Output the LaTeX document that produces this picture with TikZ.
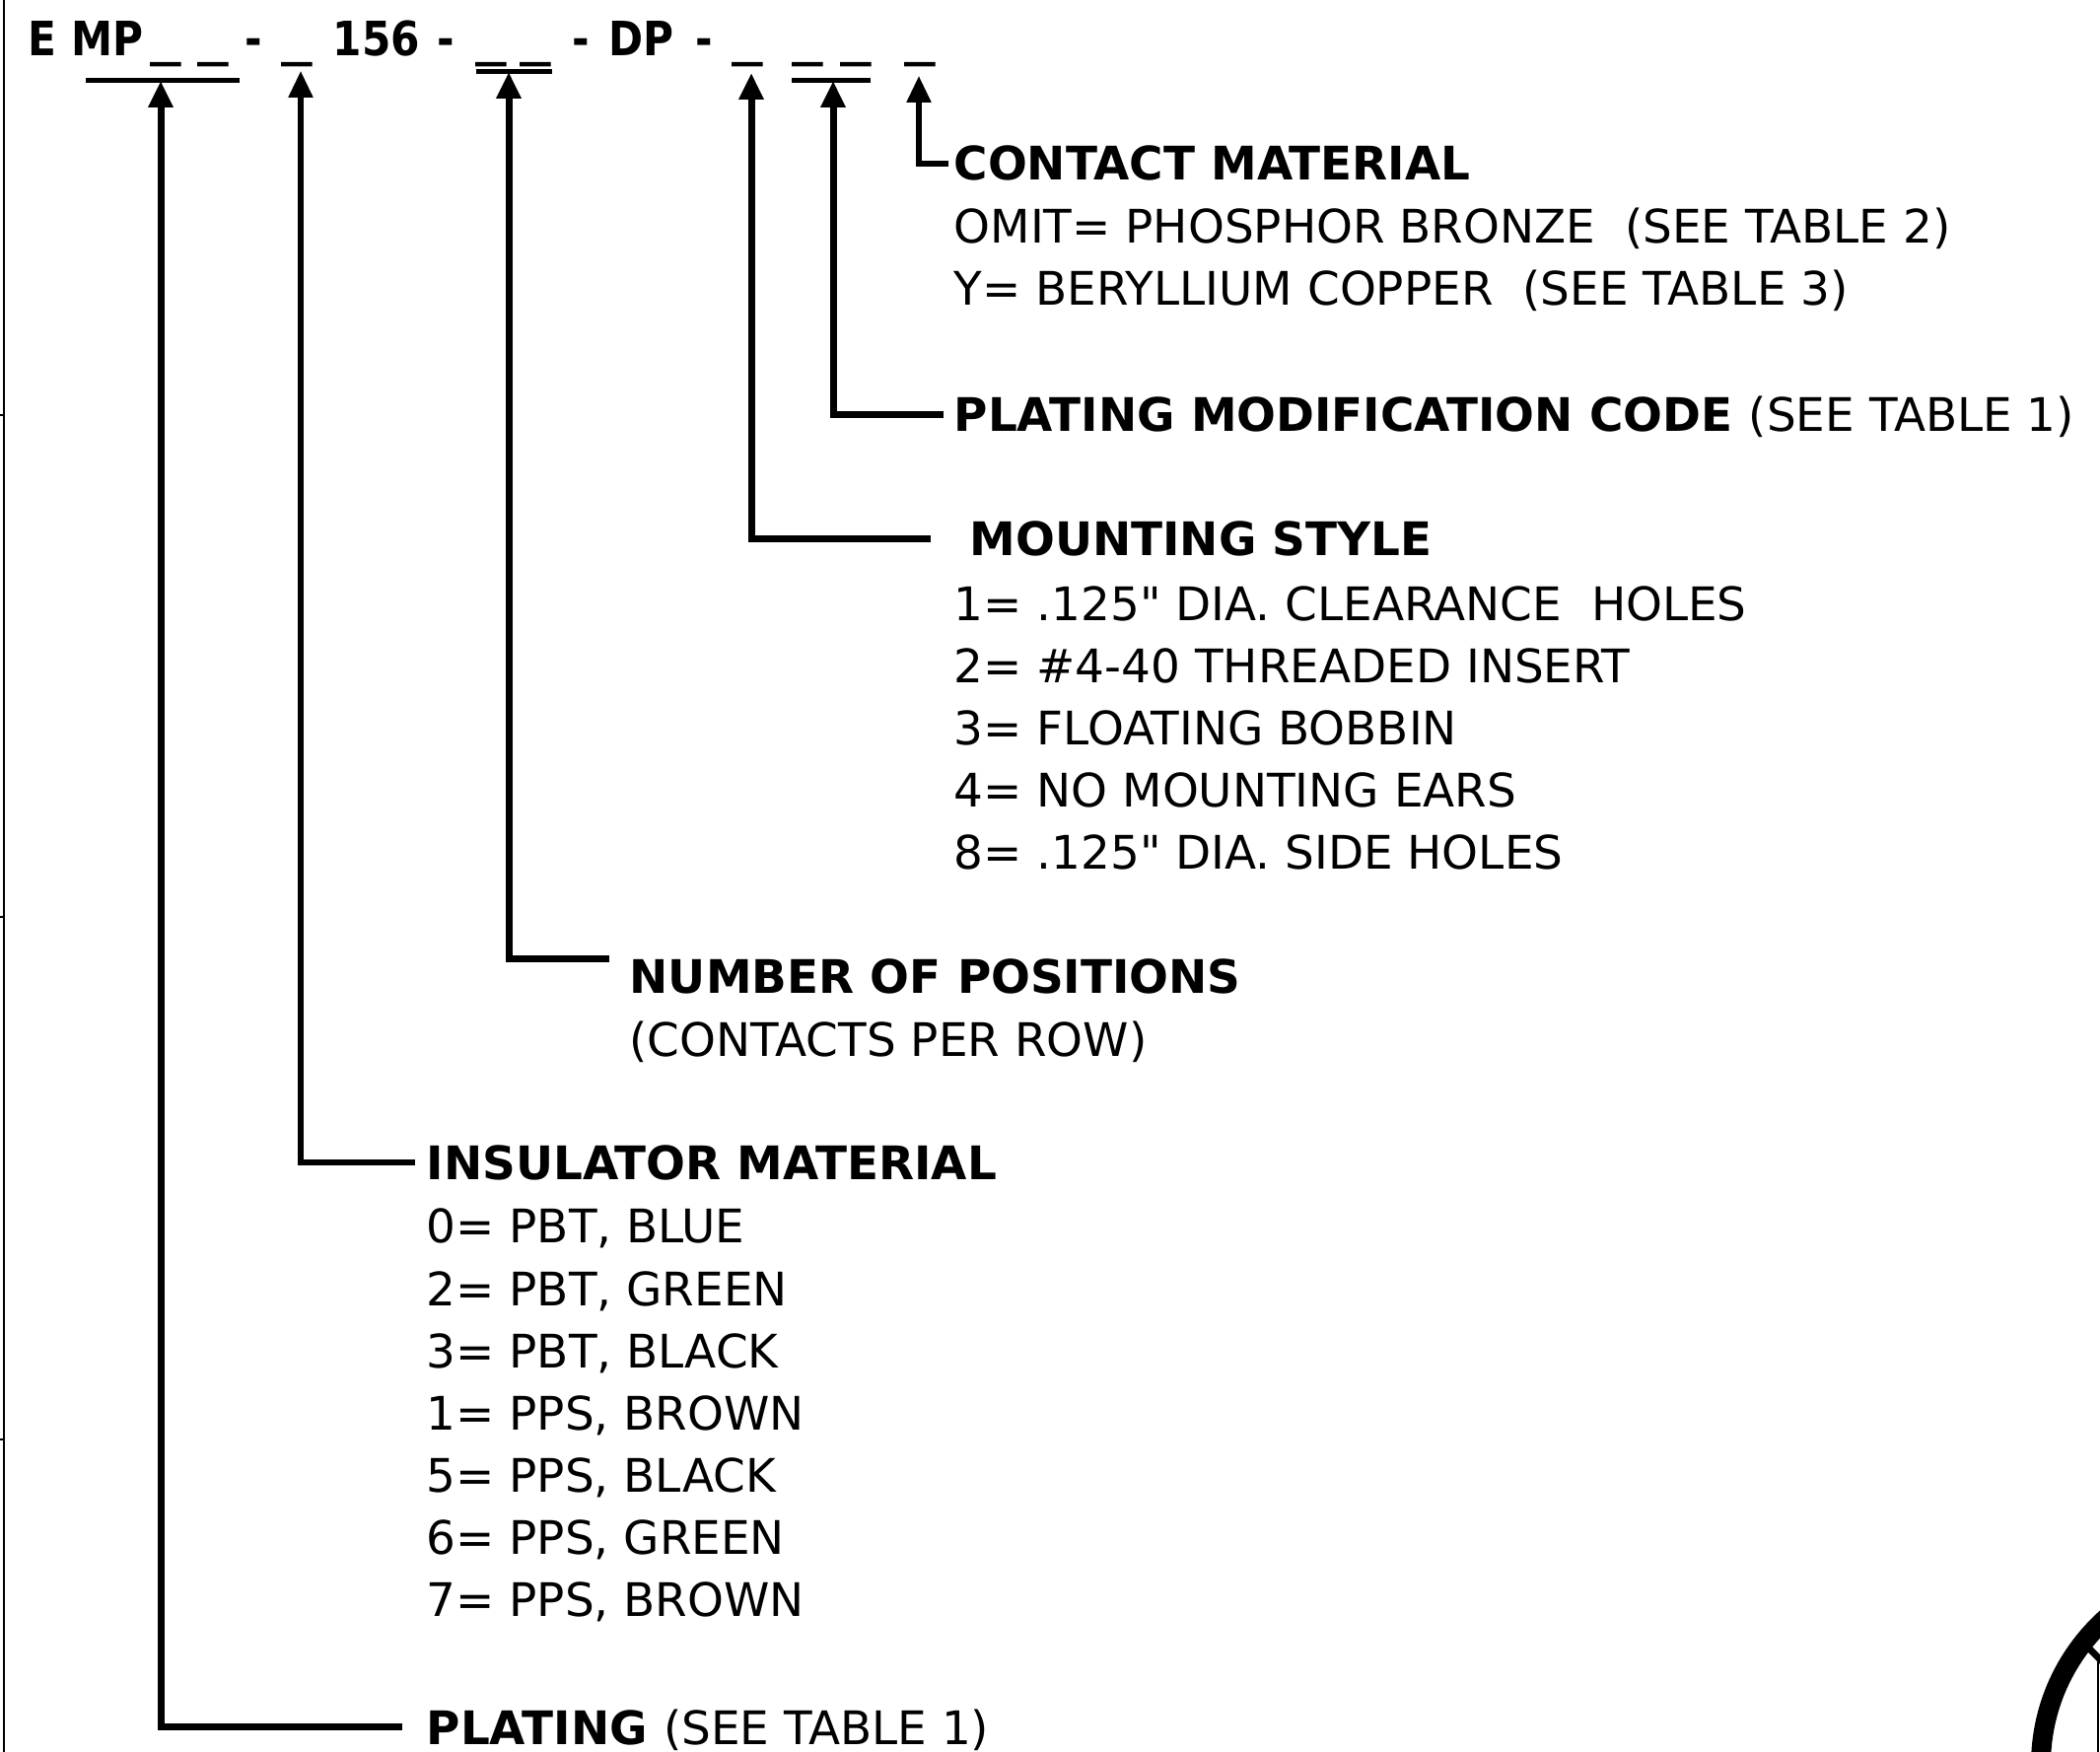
\documentclass[tikz,border=0pt]{standalone}
\usepackage{fontspec}
\setmainfont{DejaVu Sans}[Ligatures=TeXOff]
\newfontfamily\titlefont{DejaVu Sans}[FakeStretch=0.88]
\usetikzlibrary{arrows.meta}

\newcommand\us{\scalebox{1.5}[1]{\_}}

\begin{document}
\begin{tikzpicture}[x=0.1mm, y=-0.1mm,
  every node/.style={inner sep=0pt, anchor=base west, font=\fontsize{13.34pt}{16pt}\selectfont},
  part/.style={font=\titlefont\fontsize{13.66pt}{16pt}\selectfont\bfseries},
  head/.style={font=\fontsize{13.34pt}{16pt}\selectfont\bfseries, text height=9.7pt, text depth=0pt},
  lead/.style={line width=0.7mm, -{Triangle[length=2.7mm,width=2.4mm]}},
  thinlead/.style={lead, line width=0.55mm},
  bar/.style={line width=0.5mm}]
  \useasboundingbox (0,0) rectangle (2130,1777);

  % part number
  \foreach \x/\s [count=\i] in {28/E, 72/MP, 152/\us, 200/\us, 248/-, 285/\us, 337/156, 443/-,
      482/\us, 527/\us, 580/-, 617/DP, 705/-, 742/\us, 803/\us, 852/\us, 917/\us}
    \node[part] (t\i) at (\x,57) {\s};
  \draw[bar] (87,82) -- (243,82);
  \draw[bar] (483,73) -- (560,73);
  \draw[bar] (803,82) -- (883,82);
  \coordinate (tip1) at (163,82);
  \coordinate (tip2) at (305,72);
  \coordinate (tip3) at (516,73);
  \coordinate (tip4) at (762,74);
  \coordinate (tip5) at (845,82);
  \coordinate (tip6) at (932,77);

  % contact material
  \node[head] (cm) at (967,183) {CONTACT MATERIAL};
  \node (cm1) at (967,247) {OMIT= PHOSPHOR BRONZE~ (SEE TABLE 2)};
  \node (cm2) at (967,310) {Y= BERYLLIUM COPPER~ (SEE TABLE 3)};

  % plating modification
  \node[head] (pm) at (967,438) {PLATING MODIFICATION CODE \textnormal{(SEE TABLE 1)}};

  % mounting style
  \node[head] (ms) at (983,564) {MOUNTING STYLE};
  \foreach \s [count=\i] in {{1= .125" DIA. CLEARANCE~ HOLES}, {2= \#4-40 THREADED INSERT},
      {3= FLOATING BOBBIN}, {4= NO MOUNTING EARS}, {8= .125" DIA. SIDE HOLES}}
    \node (ms\i) at (967,{630+62.8*(\i-1)}) {\s};

  % positions
  \node[head] (np) at (638,1007) {NUMBER OF POSITIONS};
  \node (np1) at (638,1072) {(CONTACTS PER ROW)};

  % insulator
  \node[head] (im) at (432,1196) {INSULATOR MATERIAL};
  \foreach \s [count=\i] in {{0= PBT, BLUE}, {2= PBT, GREEN}, {3= PBT, BLACK}, {1= PPS, BROWN},
      {5= PPS, BLACK}, {6= PPS, GREEN}, {7= PPS, BROWN}}
    \node (im\i) at (432,{1261+63*(\i-1)}) {\s};

  % plating
  \node[head] (pl) at (432,1769) {PLATING \textnormal{(SEE TABLE 1)}};

  \draw[lead, shorten <=2.45mm] (pl.west) -| (tip1);
  \draw[thinlead, shorten <=1.1mm] (im.west) -| (tip2);
  \draw[lead, shorten <=2.05mm] ([yshift=1.7mm]np.west) -| (tip3);
  \draw[lead, shorten <=3.95mm] (ms.west) -| (tip4);
  \draw[lead, shorten <=1mm] (pm.west) -| (tip5);
  \draw[thinlead, shorten <=0.5mm] (cm.west) -| (tip6);

  % frame
  \draw[line width=0.3mm] (4,0) -- (4,1777);
  \foreach \y in {421,930,1460}
    \draw[line width=0.2mm] (0,\y) -- (4,\y);
  \begin{scope}
    \clip (0,0) rectangle (2130,1777);
    \draw[line width=2mm] (2270,1790) circle [radius=20mm];
    \draw[line width=0.7mm] (2110,1663) -- (2150,1703);
    \draw[line width=0.2mm] (2128,1685) -- (2128,1777);
  \end{scope}
\end{tikzpicture}
\end{document}
